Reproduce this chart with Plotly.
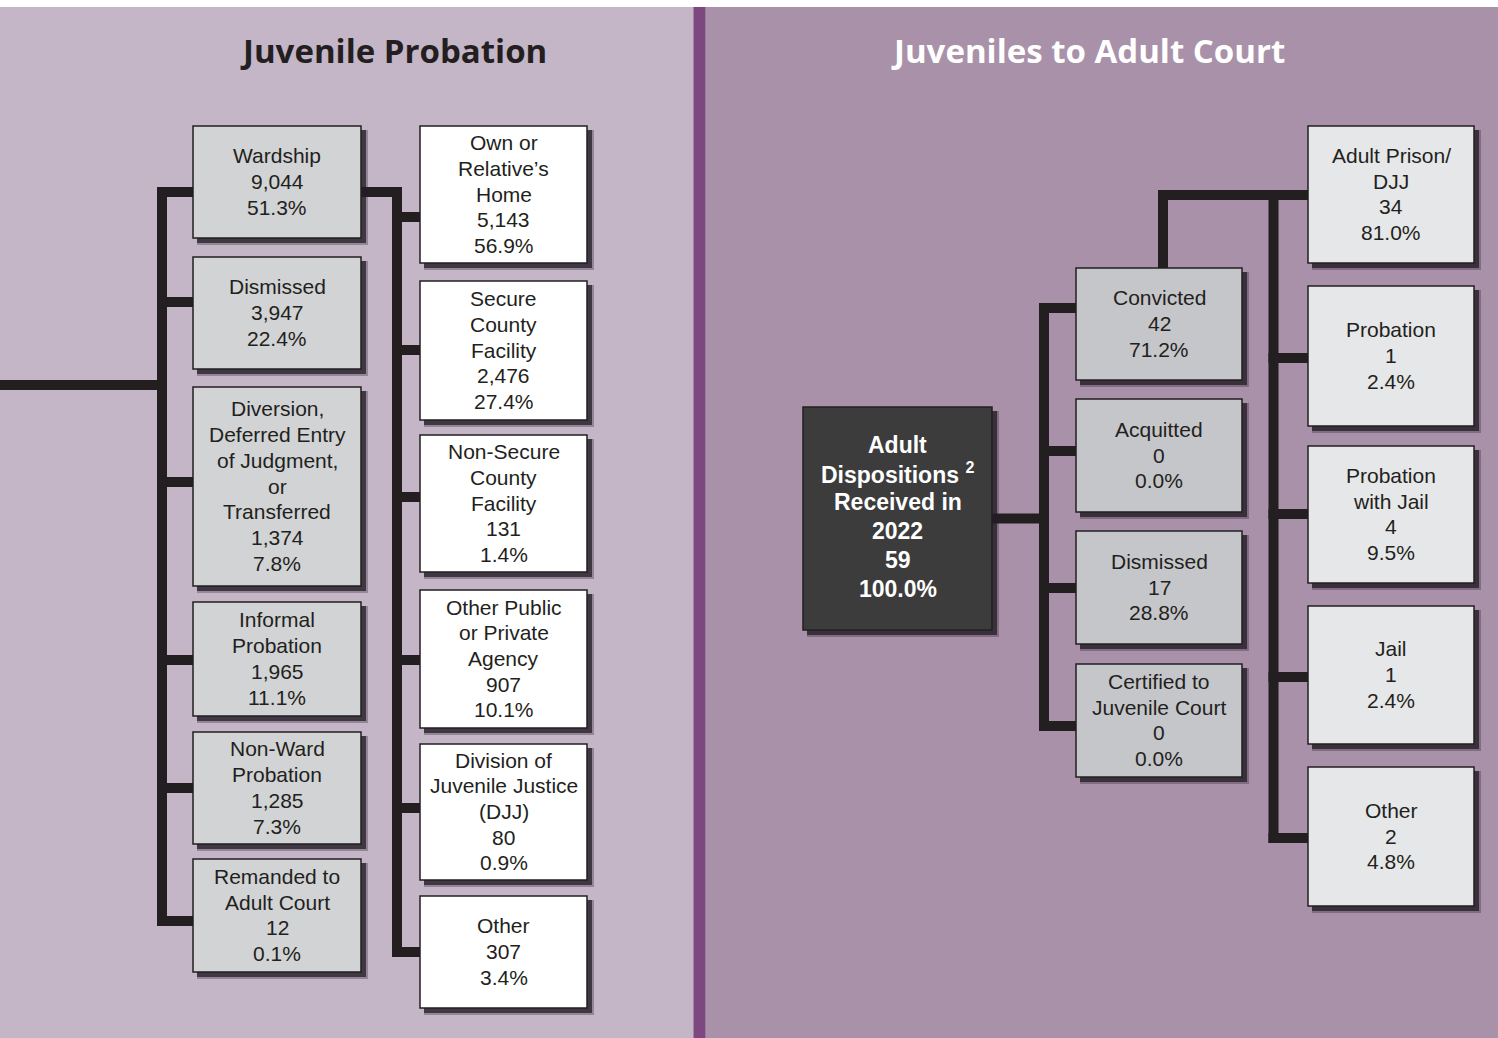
import plotly.graph_objects as go

# ---------------- DATA ----------------
probation_labels = ["Wardship", "Dismissed",
                    "Diversion,<br>Deferred Entry<br>of Judgment,<br>or<br>Transferred",
                    "Informal<br>Probation", "Non-Ward<br>Probation", "Remanded to<br>Adult Court"]
probation_counts = [9044, 3947, 1374, 1965, 1285, 12]
probation_pcts = [51.3, 22.4, 7.8, 11.1, 7.3, 0.1]

ward_labels = ["Own or<br>Relative’s<br>Home", "Secure<br>County<br>Facility",
               "Non-Secure<br>County<br>Facility", "Other Public<br>or Private<br>Agency",
               "Division of<br>Juvenile Justice<br>(DJJ)", "Other"]
ward_counts = [5143, 2476, 131, 907, 80, 307]
ward_pcts = [56.9, 27.4, 1.4, 10.1, 0.9, 3.4]

adult_root_label = "Adult<br>Dispositions <sup>2</sup><br>Received in<br>2022"
adult_root_count = 59
adult_root_pct = 100.0

adult_labels = ["Convicted", "Acquitted", "Dismissed", "Certified to<br>Juvenile Court"]
adult_counts = [42, 0, 17, 0]
adult_pcts = [71.2, 0.0, 28.8, 0.0]

sentence_labels = ["Adult Prison/<br>DJJ", "Probation", "Probation<br>with Jail", "Jail", "Other"]
sentence_counts = [34, 1, 4, 1, 2]
sentence_pcts = [81.0, 2.4, 9.5, 2.4, 4.8]

titles = ["Juvenile Probation", "Juveniles to Adult Court"]

# ---------------- LAYOUT (positions / styles) ----------------
W, H = 1498, 1038
BG_LEFT = "#c4b5c7"
BG_RIGHT = "#a991aa"
DIVIDER = "#7d4780"
INK = "#231f20"
LINE_W = 10
FONT = "Liberation Sans, Arial, sans-serif"

col1 = dict(x0=193, x1=361, tops=[126, 257, 387, 602, 732, 859],
            bots=[238, 369, 586, 716, 844, 972], fill="#d1d3d4")
col2 = dict(x0=420, x1=587, tops=[126, 281, 435, 590, 744, 896],
            bots=[263, 420, 572, 728, 880, 1008], fill="#ffffff")
colR0 = dict(x0=803, x1=992, top=407, bot=630, fill="#3c3c3c")
colR1 = dict(x0=1076, x1=1242, tops=[268, 399, 531, 664],
             bots=[380, 512, 644, 777], fill="#c5c6c9")
colR2 = dict(x0=1308, x1=1474, tops=[126, 286, 446, 606, 767],
             bots=[263, 426, 583, 744, 906], fill="#e6e7e8")

shapes = []
annotations = []


def rect(x0, y0, x1, y1, fill, lw=0, lc=INK):
    shapes.append(dict(type="rect", xref="x", yref="y", x0=x0, x1=x1, y0=y0, y1=y1,
                       fillcolor=fill, line=dict(width=lw, color=lc), layer="above"))


def hbar(x0, x1, yc):
    rect(x0, yc - LINE_W / 2, x1, yc + LINE_W / 2, INK)


def vbar(xc, y0, y1):
    rect(xc - LINE_W / 2, y0, xc + LINE_W / 2, y1, INK)


def box(x0, y0, x1, y1, fill, text, color=INK, size=21, bold=False, lh=25.7, dy=-0.5):
    rect(x0 + 4, y0 + 4, x1 + 7, y1 + 7, "rgba(35,28,38,0.30)")
    rect(x0 + 4, y0 + 4, x1 + 5, y1 + 5, "rgba(35,28,38,0.75)")
    rect(x0, y0, x1, y1, fill, lw=1.5)
    lines = text.split("<br>")
    n = len(lines)
    yc = (y0 + y1) / 2 + dy
    for i, ln in enumerate(lines):
        annotations.append(dict(x=(x0 + x1) / 2, y=yc + (i - (n - 1) / 2) * lh, xref="x", yref="y",
                                text=("<b>" + ln + "</b>") if bold else ln,
                                showarrow=False, align="center", xanchor="center", yanchor="middle",
                                font=dict(family=FONT, size=size, color=color)))


def label(lbl, n, p):
    return f"{lbl}<br>{n:,}<br>{p:.1f}%"


# backgrounds
rect(0, 0, W, H, "#ffffff")
rect(0, 7, 694, H, BG_LEFT)
rect(705, 7, W, H, BG_RIGHT)
rect(694, 7, 705, H, DIVIDER)
rect(693, 7, 694, H, "#a283a5")
rect(705, 7, 706, H, "#9a7e9c")

# --- left connectors
c1_conn = [192, 302, 482, 660, 788, 921]
c2_conn = [217, 350, 497, 660, 808, 952]
trunk1 = 162
trunk2 = 397
hbar(0, trunk1 + LINE_W / 2, 385)
vbar(trunk1, c1_conn[0] - LINE_W / 2, c1_conn[-1] + LINE_W / 2)
for yc in c1_conn:
    hbar(trunk1 - LINE_W / 2, col1["x0"], yc)
hbar(col1["x1"], trunk2 + LINE_W / 2, c1_conn[0])
vbar(trunk2, c1_conn[0] - LINE_W / 2, c2_conn[-1] + LINE_W / 2)
for yc in c2_conn:
    hbar(trunk2 - LINE_W / 2, col2["x0"], yc)

# --- right connectors
r1_conn = [308, 451, 588, 726]
r2_conn = [195, 358, 514, 677, 838]
trunkR1 = 1044
trunkR2 = 1273.5
upR = 1163
hbar(colR0["x1"], trunkR1 + LINE_W / 2, 518.5)
vbar(trunkR1, r1_conn[0] - LINE_W / 2, r1_conn[-1] + LINE_W / 2)
for yc in r1_conn:
    hbar(trunkR1 - LINE_W / 2, colR1["x0"], yc)
vbar(upR, r2_conn[0] - LINE_W / 2, colR1["tops"][0])
hbar(upR - LINE_W / 2, colR2["x0"], r2_conn[0])
vbar(trunkR2, r2_conn[0] - LINE_W / 2, r2_conn[-1] + LINE_W / 2)
for yc in r2_conn[1:]:
    hbar(trunkR2 - LINE_W / 2, colR2["x0"], yc)

# --- boxes
for i, (lbl, n, p) in enumerate(zip(probation_labels, probation_counts, probation_pcts)):
    box(col1["x0"], col1["tops"][i], col1["x1"], col1["bots"][i], col1["fill"], label(lbl, n, p))
for i, (lbl, n, p) in enumerate(zip(ward_labels, ward_counts, ward_pcts)):
    box(col2["x0"], col2["tops"][i], col2["x1"], col2["bots"][i], col2["fill"], label(lbl, n, p))
box(colR0["x0"], colR0["top"], colR0["x1"], colR0["bot"], colR0["fill"],
    label(adult_root_label, adult_root_count, adult_root_pct), color="#ffffff", size=23, bold=True,
    lh=28.8, dy=-2)
for i, (lbl, n, p) in enumerate(zip(adult_labels, adult_counts, adult_pcts)):
    box(colR1["x0"], colR1["tops"][i], colR1["x1"], colR1["bots"][i], colR1["fill"], label(lbl, n, p))
for i, (lbl, n, p) in enumerate(zip(sentence_labels, sentence_counts, sentence_pcts)):
    box(colR2["x0"], colR2["tops"][i], colR2["x1"], colR2["bots"][i], colR2["fill"], label(lbl, n, p))

# titles
for t, xc, col in zip(titles, [393, 1088], [INK, "#ffffff"]):
    annotations.append(dict(x=xc, y=50, xref="x", yref="y", text=f"<b>{t}</b>", showarrow=False,
                            xanchor="center", yanchor="middle",
                            font=dict(family="Open Sans, sans-serif", size=33, color=col)))

fig = go.Figure()
fig.update_layout(
    width=W, height=H, margin=dict(l=0, r=0, t=0, b=0),
    paper_bgcolor="#ffffff", plot_bgcolor="#ffffff",
    xaxis=dict(range=[0, W], visible=False, fixedrange=True),
    yaxis=dict(range=[H, 0], visible=False, fixedrange=True),
    shapes=shapes, annotations=annotations, showlegend=False,
)
fig.write_html("out.html", config={"displayModeBar": False},
               post_script="document.body.style.margin='0';document.body.style.overflow='hidden';")
